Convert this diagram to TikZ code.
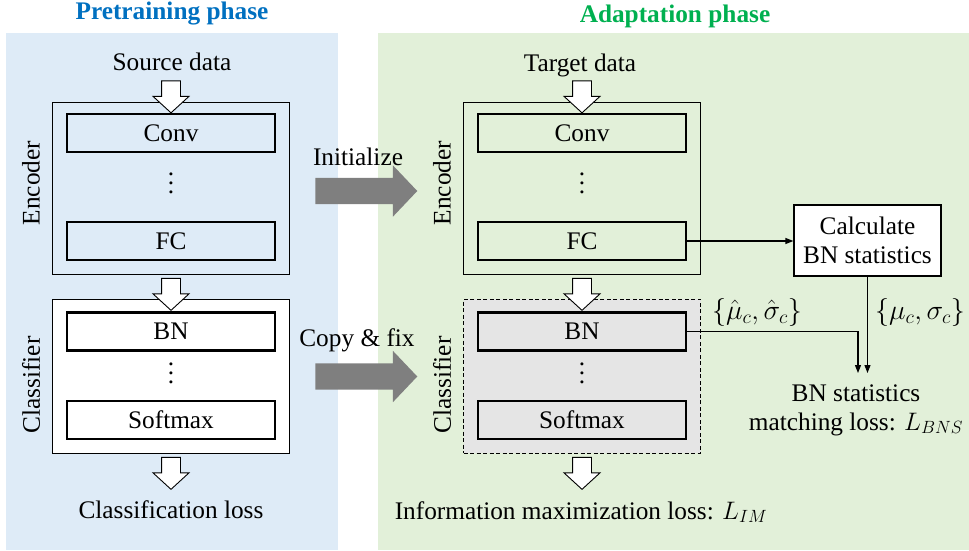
\RequirePackage{fix-cm}
\documentclass[tikz,border=0pt]{standalone}
\usepackage{fontspec}
\setmainfont{Liberation Serif}
\usetikzlibrary{shapes.arrows, arrows.meta, positioning}

\definecolor{pretrainbg}{HTML}{DEEBF7}
\definecolor{adaptbg}{HTML}{E2F0D9}
\definecolor{pretraintitle}{HTML}{0070C0}
\definecolor{adapttitle}{HTML}{00B050}
\definecolor{transfergray}{HTML}{7F7F7F}

\tikzset{
  layer/.style={draw, line width=2.2pt, minimum width=208pt, minimum height=38pt, inner sep=0pt},
  module/.style={draw, line width=0.9pt, minimum width=237pt, inner sep=0pt},
  clsplain/.style={fill=white},
  clsfixed/.style={fill=gray!20, dash pattern=on 4pt off 2.5pt},
  flow/.style={single arrow, draw, line width=0.9pt, fill=white, rotate=-90,
    single arrow head extend=8.5pt, single arrow tip angle=95,
    inner xsep=0pt, inner ysep=9pt, minimum height=32pt, minimum width=32pt},
  transfer/.style={single arrow, fill=transfergray, single arrow head extend=12.5pt,
    single arrow tip angle=93, inner xsep=0pt, inner ysep=13pt, minimum height=102pt},
  link/.style={line width=1.2pt, -{Triangle[length=8pt, width=6pt]}},
  phasetitle/.style={font=\fontsize{25.3}{29}\selectfont\bfseries},
  skipdots/.style={align=center, font=\fontsize{25.3}{9}\selectfont, inner sep=0pt},
  statset/.style={font=\fontsize{28}{32}\selectfont}
}

\begin{document}
\begin{tikzpicture}[x=1pt, y=-1pt, font=\fontsize{25.3}{29}\selectfont]
  \useasboundingbox (0,0) rectangle (969,550);
  % phase backgrounds
  \fill[pretrainbg] (6,33) rectangle (338,550);
  \fill[adaptbg] (378,33) rectangle (969,550);
  \node[phasetitle, text=pretraintitle] (pretitle) at (172,14) {Pretraining phase};
  \node[phasetitle, text=adapttitle] (adapttitle) at (675,16) {Adaptation phase};

  % both networks
  \foreach \col/\cx/\cls/\layerfill in {A/171/clsplain/white, B/582/clsfixed/gray!20} {
    \node[module, minimum height=172pt] (enc\col) at (\cx,188) {};
    \node[module, \cls, minimum height=154pt] (cls\col) at (\cx,376) {};
    \node[layer] (conv\col) at (\cx,133) {Conv};
    \node[skipdots] (encdots\col) at (\cx,183) {.\\.\\.};
    \node[layer] (fc\col) at (\cx,241) {FC};
    \node[layer, fill=\layerfill] (bn\col) at (\cx,331.5) {BN};
    \node[skipdots] (clsdots\col) at (\cx,373) {.\\.\\.};
    \node[layer, fill=\layerfill] (softmax\col) at (\cx,420) {Softmax};
    \node[rotate=90] (enclabel\col) at (\cx-140,183) {Encoder};
    \node[rotate=90] (clslabel\col) at (\cx-140,385) {Classifier};
    \node[flow] (inflow\col) at (\cx,92.5) {};
    \node[flow] (midflow\col) at (\cx,290) {};
    \node[flow] (outflow\col) at (\cx,469) {};
  }

  \node (srcdata) at (172,62) {Source data};
  \node (tgtdata) at (580,65) {Target data};
  \node (clsloss) at (171,510) {Classification loss};
  \node (imloss) at (581,512) {Information maximization loss: $L_{IM}$};

  % transfer between phases
  \node[transfer] (init) at (360,191) {};
  \node (initlabel) at (358,157) {Initialize};
  \node[transfer] (copyfix) at (360,376.5) {};
  \node (copylabel) at (357,340) {Copy \& fix};

  % BN statistics matching
  \node[draw, line width=1.2pt, align=center, minimum width=147pt, minimum height=71pt, fill=white]
    (calcbn) at (867.5,240.5) {Calculate\\BN statistics};
  \node[align=center] (bnsloss) at (856,410) {BN statistics\\matching loss: $L_{BNS}$};
  \coordinate (hatin) at (858,373);
  \draw[link] (fcB.east) -- (calcbn.west |- fcB.east);
  \draw[link] (bnB.east) -| (hatin);
  \draw[link] (calcbn.south) -- (calcbn.south |- hatin);
  \node[statset] (hatstats) at (757,312) {$\{\hat{\mu}_c, \hat{\sigma}_c\}$};
  \node[statset] (stats) at (920,312) {$\{\mu_c, \sigma_c\}$};
\end{tikzpicture}
\end{document}
